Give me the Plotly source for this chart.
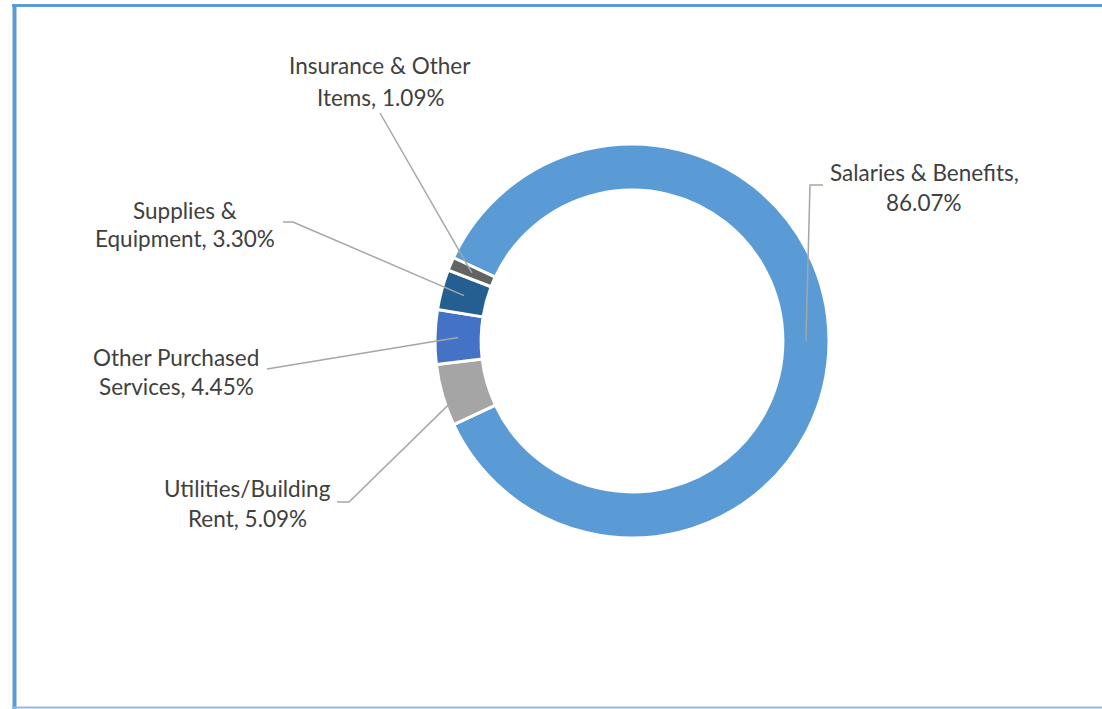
import math
import plotly.graph_objects as go

# ---- data ----
categories = ["Salaries & Benefits", "Utilities/Building Rent", "Other Purchased Services",
              "Supplies & Equipment", "Insurance & Other Items"]
values = [86.07, 5.09, 4.45, 3.30, 1.09]
label_line1 = ["Salaries & Benefits,", "Utilities/Building", "Other Purchased",
               "Supplies &", "Insurance & Other"]
label_line2 = ["86.07%", "Rent, 5.09%", "Services, 4.45%", "Equipment, 3.30%", "Items, 1.09%"]
colors = ["#5B9BD5", "#A5A5A5", "#4472C4", "#255E91", "#636363"]

W, H = 1102, 709
CX, CY, R = 632, 341, 197
HOLE = 0.766
ROTATION = 295

def px(x):
    return x / W

def py(y):
    return 1 - y / H

fig = go.Figure(go.Pie(
    labels=categories, values=values, sort=False, direction="clockwise",
    rotation=ROTATION, hole=HOLE, textinfo="none",
    marker=dict(colors=colors, line=dict(color="white", width=3)),
    domain=dict(x=[px(CX - R), px(CX + R)], y=[py(CY + R), py(CY - R)]),
    showlegend=False,
))

# label placement (pixel positions of text line centres) and leader line elbows
label_pos = [(924, 172, 202), (247, 488, 518), (176, 357, 386), (185, 210, 239), (380, 66, 97)]
leader_start = [[(823, 185), (810, 185)], [(337, 502), (349, 502)], [(267, 369)],
                [(283, 222), (293, 222)], [(380, 113)]]

total = sum(values)
r_mid = R * (1 + HOLE) / 2
ang = ROTATION
shapes = []
annotations = []
font = dict(family="Lato", size=22.5, color="#404040")
for i, v in enumerate(values):
    span = v / total * 360
    mid = math.radians(ang + span / 2)
    ang += span
    ex, ey = CX + r_mid * math.sin(mid), CY - r_mid * math.cos(mid)
    pts = leader_start[i] + [(ex, ey)]
    path = "M " + " L ".join(f"{px(x)},{py(y)}" for x, y in pts)
    shapes.append(dict(type="path", path=path, xref="paper", yref="paper",
                       line=dict(color="#A6A6A6", width=1.5)))
    lx, y1, y2 = label_pos[i]
    annotations.append(dict(x=px(lx), y=py(y1), xref="paper", yref="paper", text=label_line1[i],
                            showarrow=False, font=font, xanchor="center", yanchor="middle"))
    annotations.append(dict(x=px(lx), y=py(y2), xref="paper", yref="paper", text=label_line2[i],
                            showarrow=False, font=font, xanchor="center", yanchor="middle"))

# frame
frame = "#5B9BD5"
shapes += [
    dict(type="line", xref="paper", yref="paper", x0=px(12), x1=1, y0=py(5.5), y1=py(5.5),
         line=dict(color=frame, width=3)),
    dict(type="line", xref="paper", yref="paper", x0=px(14.5), x1=px(14.5), y0=py(4), y1=py(709),
         line=dict(color=frame, width=4)),
    dict(type="line", xref="paper", yref="paper", x0=px(12), x1=1, y0=py(707.5), y1=py(707.5),
         line=dict(color="#8DBBE8", width=2)),
]

fig.update_layout(width=W, height=H, margin=dict(l=0, r=0, t=0, b=0),
                  paper_bgcolor="white", plot_bgcolor="white",
                  shapes=shapes, annotations=annotations)
fig.write_html("out.html", config={"displayModeBar": False},
               post_script="document.body.style.margin='0';")
